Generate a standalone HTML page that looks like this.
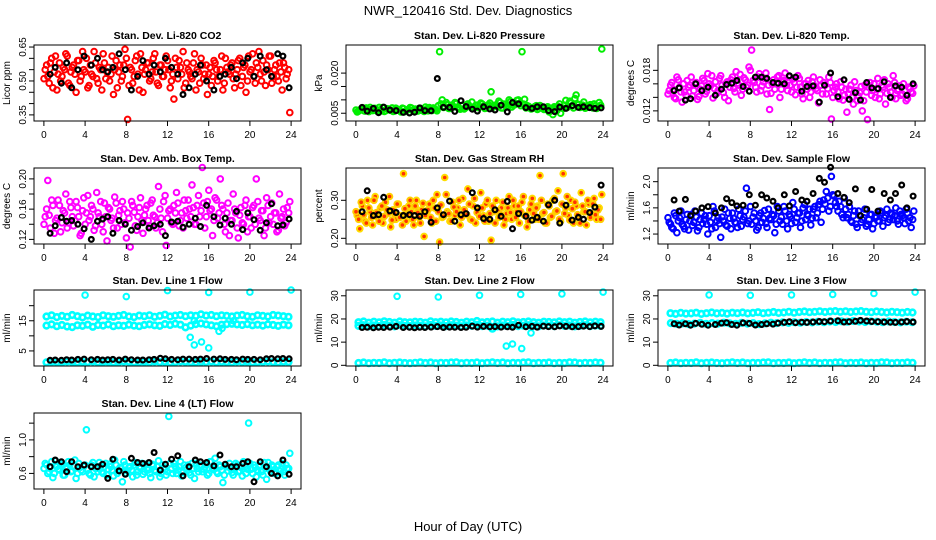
<!DOCTYPE html>
<html><head><meta charset="utf-8"><title>NWR_120416 Std. Dev. Diagnostics</title>
<style>
html,body{margin:0;padding:0;background:#fff;}
svg{display:block;font-family:"Liberation Sans",Arial,sans-serif;}
</style></head>
<body>
<svg id="chart" width="936" height="540" viewBox="0 0 936 540">
<text x="468" y="15" text-anchor="middle" font-size="13">NWR_120416  Std. Dev. Diagnostics</text>
<text x="468" y="531" text-anchor="middle" font-size="13">Hour of Day (UTC)</text>
</svg>
<script>
// ---------- shared data ----------
const xTicks = [0,4,8,12,16,20,24];
const blackHours = [0.6,1.1,1.7,2.2,2.7,3.3,3.9,4.6,5.2,5.7,6.2,6.7,7.3,7.9,8.5,9.1,9.6,10.2,10.7,11.3,11.8,12.4,13.0,13.5,14.1,14.7,15.2,15.8,16.5,17.1,17.6,18.2,18.7,19.3,19.8,20.4,21.0,21.6,22.1,22.7,23.2,23.8];
const outlierHours = [4,8,12,16,20,24];

// Panel 1: CO2
const co2Values = [0.55,0.52,0.58,0.47,0.61,0.53,0.50,0.56,0.62,0.49,0.54,0.57,0.45,0.59,0.52,0.55,0.60,0.48,0.53,0.63,0.51,0.56,0.46,0.58,0.54,0.50,0.61,0.55,0.47,0.57,0.52,0.64,0.33,0.56,0.49,0.59,0.53,0.62,0.45,0.55,0.58,0.51,0.60,0.54,0.48,0.57,0.52,0.61,0.55,0.50,0.42,0.56,0.59,0.53,0.47,0.58,0.54,0.51,0.62,0.55,0.49,0.57,0.53,0.44,0.56,0.52,0.58,0.50,0.55,0.46,0.60,0.54,0.57,0.51,0.53,0.59,0.48,0.56,0.45,0.61,0.55,0.52,0.58,0.63,0.50,0.54,0.57,0.61,0.49,0.55,0.52,0.58,0.46,0.56,0.53,0.36];
const co2ValuesB = [0.51,0.57,0.49,0.60,0.54,0.46,0.58,0.52,0.55,0.61,0.48,0.56,0.53,0.59,0.50,0.63,0.54,0.47,0.57,0.52,0.58,0.49,0.55,0.62,0.51,0.56,0.53,0.44,0.59,0.54,0.50,0.57,0.60,0.48,0.55,0.52,0.61,0.46,0.56,0.53,0.58,0.50,0.54,0.62,0.49,0.57,0.52,0.55,0.59,0.47,0.53,0.60,0.51,0.56,0.63,0.49,0.55,0.52,0.58,0.46,0.54,0.60,0.51,0.57,0.53,0.48,0.59,0.55,0.52,0.61,0.49,0.56,0.53,0.58,0.47,0.55,0.60,0.52,0.57,0.50,0.54,0.62,0.49,0.56,0.53,0.59,0.48,0.55,0.61,0.52,0.57,0.50,0.54,0.58,0.51,0.55];
const co2Black = [0.53,0.56,0.49,0.58,0.47,0.55,0.61,0.57,0.60,0.55,0.54,0.56,0.62,0.55,0.46,0.52,0.59,0.53,0.57,0.54,0.60,0.56,0.53,0.44,0.47,0.53,0.57,0.50,0.46,0.52,0.53,0.56,0.51,0.58,0.60,0.52,0.61,0.55,0.52,0.62,0.61,0.47];
const co2Ticks = [0.35,0.40,0.45,0.50,0.55,0.60,0.65];
const co2TickLabels = ["0.35","","","0.50","","","0.65"];

// Panel 2: pressure
const presValues = [0.0055,0.0062,0.0070,0.0058,0.0065,0.0072,0.0060,0.0068,0.0056,0.0063,0.0071,0.0059,0.0066,0.0061,0.0057,0.0069,0.0062,0.0055,0.0067,0.0060,0.0064,0.0070,0.0058,0.0063,0.0068,0.0061,0.0057,0.0066,0.0071,0.0060,0.0065,0.0059,0.0280,0.0100,0.0075,0.0082,0.0068,0.0078,0.0090,0.0072,0.0065,0.0080,0.0070,0.0085,0.0074,0.0068,0.0079,0.0071,0.0088,0.0076,0.0069,0.0082,0.0130,0.0074,0.0079,0.0095,0.0070,0.0084,0.0077,0.0100,0.0073,0.0081,0.0098,0.0086,0.0280,0.0102,0.0078,0.0072,0.0068,0.0075,0.0064,0.0079,0.0070,0.0066,0.0074,0.0060,0.0045,0.0071,0.0076,0.0050,0.0068,0.0098,0.0075,0.0088,0.0070,0.0118,0.0082,0.0076,0.0092,0.0071,0.0079,0.0074,0.0085,0.0068,0.0090,0.0290];
const presValuesB = [0.0062,0.0058,0.0066,0.0060,0.0070,0.0056,0.0064,0.0068,0.0059,0.0072,0.0061,0.0057,0.0067,0.0063,0.0070,0.0058,0.0065,0.0061,0.0069,0.0056,0.0063,0.0071,0.0060,0.0066,0.0058,0.0068,0.0062,0.0073,0.0059,0.0066,0.0070,0.0064,0.0078,0.0085,0.0072,0.0090,0.0068,0.0080,0.0074,0.0086,0.0070,0.0078,0.0066,0.0082,0.0075,0.0092,0.0071,0.0080,0.0074,0.0084,0.0068,0.0078,0.0088,0.0072,0.0080,0.0075,0.0090,0.0070,0.0083,0.0076,0.0094,0.0080,0.0086,0.0100,0.0078,0.0084,0.0070,0.0076,0.0066,0.0072,0.0078,0.0068,0.0074,0.0064,0.0070,0.0055,0.0068,0.0074,0.0060,0.0085,0.0070,0.0080,0.0072,0.0095,0.0078,0.0105,0.0084,0.0072,0.0080,0.0069,0.0076,0.0082,0.0070,0.0078,0.0074,0.0080];
const presBlack = [0.0072,0.0058,0.0068,0.0052,0.0073,0.0062,0.0060,0.0053,0.0051,0.0054,0.0070,0.0060,0.0059,0.0180,0.0072,0.0072,0.0057,0.0097,0.0075,0.0065,0.0058,0.0074,0.0066,0.0062,0.0080,0.0055,0.0090,0.0085,0.0071,0.0068,0.0074,0.0074,0.0060,0.0056,0.0073,0.0068,0.0078,0.0072,0.0074,0.0071,0.0068,0.0070];
const presTicks = [0.005,0.010,0.015,0.020];
const presTickLabels = ["0.005","","","0.020"];

// Panel 3: Li-820 temp
const tempValues = [0.0150,0.0162,0.0140,0.0170,0.0155,0.0133,0.0148,0.0165,0.0158,0.0142,0.0160,0.0137,0.0152,0.0168,0.0145,0.0175,0.0157,0.0139,0.0163,0.0150,0.0172,0.0147,0.0160,0.0135,0.0166,0.0153,0.0178,0.0158,0.0143,0.0169,0.0155,0.0185,0.0210,0.0162,0.0148,0.0175,0.0157,0.0168,0.0145,0.0122,0.0160,0.0152,0.0170,0.0140,0.0163,0.0176,0.0150,0.0158,0.0167,0.0144,0.0172,0.0155,0.0138,0.0160,0.0165,0.0148,0.0170,0.0153,0.0132,0.0158,0.0162,0.0145,0.0170,0.0108,0.0150,0.0160,0.0138,0.0155,0.0143,0.0118,0.0152,0.0140,0.0163,0.0135,0.0147,0.0120,0.0158,0.0107,0.0162,0.0150,0.0140,0.0168,0.0145,0.0155,0.0130,0.0160,0.0148,0.0172,0.0138,0.0152,0.0143,0.0160,0.0135,0.0155,0.0148,0.0157];
const tempValuesB = [0.0145,0.0158,0.0152,0.0138,0.0166,0.0148,0.0160,0.0143,0.0155,0.0170,0.0150,0.0162,0.0141,0.0157,0.0165,0.0149,0.0160,0.0172,0.0153,0.0146,0.0168,0.0158,0.0140,0.0163,0.0155,0.0170,0.0148,0.0161,0.0174,0.0152,0.0166,0.0158,0.0180,0.0165,0.0155,0.0170,0.0150,0.0163,0.0176,0.0158,0.0146,0.0166,0.0160,0.0172,0.0152,0.0165,0.0158,0.0170,0.0148,0.0162,0.0155,0.0168,0.0145,0.0160,0.0152,0.0140,0.0163,0.0157,0.0150,0.0166,0.0145,0.0158,0.0153,0.0162,0.0140,0.0155,0.0148,0.0163,0.0136,0.0152,0.0145,0.0158,0.0130,0.0150,0.0142,0.0156,0.0135,0.0148,0.0155,0.0143,0.0160,0.0152,0.0138,0.0158,0.0166,0.0146,0.0155,0.0140,0.0162,0.0150,0.0157,0.0145,0.0150,0.0138,0.0153,0.0146];
const tempBlack = [0.0150,0.0154,0.0136,0.0138,0.0160,0.0150,0.0155,0.0143,0.0152,0.0159,0.0161,0.0165,0.0156,0.0149,0.0170,0.0170,0.0168,0.0162,0.0161,0.0160,0.0172,0.0170,0.0149,0.0156,0.0157,0.0133,0.0158,0.0176,0.0141,0.0166,0.0137,0.0147,0.0136,0.0162,0.0154,0.0153,0.0163,0.0140,0.0157,0.0155,0.0143,0.0160];
const tempTicks = [0.012,0.014,0.016,0.018];
const tempTickLabels = ["0.012","","","0.018"];

// Panel 4: amb box temp
const ambValues = [0.150,0.198,0.135,0.165,0.145,0.172,0.130,0.158,0.180,0.142,0.162,0.138,0.170,0.150,0.128,0.175,0.155,0.145,0.165,0.132,0.182,0.150,0.140,0.168,0.118,0.160,0.148,0.176,0.135,0.158,0.170,0.142,0.155,0.110,0.165,0.138,0.150,0.175,0.128,0.160,0.145,0.168,0.152,0.135,0.190,0.148,0.170,0.112,0.158,0.142,0.165,0.182,0.138,0.155,0.172,0.148,0.160,0.192,0.140,0.165,0.150,0.215,0.135,0.170,0.158,0.125,0.175,0.148,0.200,0.160,0.130,0.168,0.145,0.180,0.155,0.122,0.162,0.140,0.172,0.150,0.135,0.165,0.200,0.148,0.158,0.125,0.175,0.142,0.168,0.155,0.130,0.180,0.150,0.138,0.162,0.170];
const ambValuesB = [0.140,0.160,0.152,0.172,0.128,0.148,0.165,0.142,0.155,0.135,0.170,0.150,0.145,0.162,0.125,0.158,0.140,0.178,0.150,0.160,0.138,0.155,0.170,0.130,0.150,0.162,0.145,0.135,0.168,0.152,0.140,0.160,0.122,0.148,0.170,0.156,0.132,0.162,0.145,0.152,0.165,0.138,0.172,0.150,0.142,0.160,0.130,0.178,0.148,0.160,0.140,0.155,0.168,0.145,0.135,0.158,0.172,0.150,0.162,0.140,0.178,0.158,0.168,0.150,0.185,0.160,0.145,0.172,0.155,0.165,0.140,0.155,0.125,0.145,0.160,0.135,0.152,0.142,0.165,0.130,0.150,0.162,0.140,0.170,0.145,0.158,0.135,0.165,0.150,0.140,0.155,0.132,0.148,0.160,0.142,0.155];
const ambBlack = [0.128,0.138,0.149,0.144,0.145,0.140,0.134,0.120,0.144,0.147,0.150,0.128,0.145,0.140,0.132,0.137,0.142,0.135,0.138,0.140,0.125,0.143,0.144,0.136,0.140,0.148,0.137,0.165,0.150,0.139,0.148,0.140,0.157,0.133,0.155,0.146,0.132,0.142,0.167,0.138,0.139,0.147];
const ambTicks = [0.12,0.14,0.16,0.18,0.20];
const ambTickLabels = ["0.12","","0.16","","0.20"];

// Panel 5: gas stream RH
const rhValues = [0.260,0.225,0.285,0.245,0.300,0.270,0.235,0.310,0.255,0.280,0.240,0.295,0.265,0.230,0.275,0.250,0.290,0.260,0.370,0.245,0.285,0.270,0.235,0.300,0.255,0.275,0.205,0.265,0.290,0.240,0.280,0.315,0.190,0.255,0.360,0.270,0.245,0.295,0.260,0.280,0.235,0.305,0.265,0.330,0.250,0.285,0.240,0.275,0.320,0.260,0.290,0.245,0.195,0.270,0.300,0.255,0.280,0.235,0.265,0.310,0.250,0.285,0.270,0.240,0.295,0.260,0.230,0.275,0.305,0.250,0.285,0.365,0.265,0.240,0.290,0.255,0.300,0.270,0.325,0.245,0.370,0.280,0.260,0.300,0.240,0.285,0.255,0.320,0.270,0.235,0.290,0.265,0.305,0.250,0.280,0.315];
const rhValuesB = [0.270,0.250,0.295,0.262,0.240,0.280,0.255,0.300,0.268,0.245,0.285,0.258,0.275,0.310,0.248,0.265,0.290,0.255,0.235,0.278,0.262,0.300,0.250,0.285,0.268,0.240,0.292,0.260,0.275,0.255,0.300,0.245,0.270,0.288,0.258,0.315,0.265,0.245,0.282,0.270,0.300,0.255,0.275,0.262,0.290,0.248,0.305,0.268,0.258,0.280,0.245,0.300,0.265,0.285,0.240,0.272,0.262,0.295,0.250,0.280,0.268,0.300,0.255,0.285,0.270,0.310,0.260,0.245,0.290,0.265,0.280,0.250,0.300,0.268,0.240,0.285,0.258,0.305,0.272,0.250,0.290,0.265,0.310,0.248,0.278,0.295,0.262,0.240,0.285,0.270,0.300,0.255,0.290,0.262,0.275,0.250];
const rhBlack = [0.270,0.325,0.260,0.262,0.308,0.272,0.268,0.260,0.262,0.260,0.258,0.270,0.242,0.280,0.262,0.298,0.245,0.262,0.265,0.320,0.280,0.252,0.250,0.275,0.258,0.297,0.225,0.265,0.258,0.248,0.255,0.245,0.288,0.300,0.240,0.287,0.248,0.255,0.250,0.268,0.282,0.340];
const rhTicks = [0.20,0.25,0.30];
const rhTickLabels = ["0.20","","0.30"];

// Panel 6: sample flow
const sfValues = [1.38,1.30,1.52,1.22,1.45,1.35,1.28,1.50,1.40,1.33,1.55,1.25,1.42,1.36,1.48,1.20,1.38,1.62,1.30,1.45,1.15,1.40,1.34,1.52,1.28,1.44,1.37,1.58,1.32,1.46,1.90,1.40,1.35,1.52,1.26,1.48,1.38,1.56,1.30,1.44,1.50,1.22,1.62,1.40,1.35,1.55,1.28,1.47,1.68,1.38,1.52,1.30,1.60,1.42,1.48,1.34,1.58,1.45,1.65,1.38,1.72,1.85,1.55,2.08,1.78,1.62,1.70,1.50,1.75,1.45,1.62,1.38,1.55,1.30,1.48,1.42,1.58,1.35,1.50,1.28,1.45,1.40,1.55,1.32,1.48,1.38,1.52,1.42,1.60,1.35,1.50,1.45,1.58,1.40,1.30,1.55];
const sfValuesB = [1.45,1.35,1.28,1.48,1.40,1.55,1.32,1.42,1.26,1.50,1.38,1.46,1.30,1.52,1.42,1.35,1.48,1.28,1.55,1.40,1.36,1.46,1.58,1.32,1.44,1.52,1.38,1.30,1.48,1.42,1.55,1.36,1.62,1.46,1.40,1.30,1.52,1.44,1.36,1.58,1.42,1.48,1.35,1.55,1.46,1.62,1.40,1.50,1.36,1.58,1.45,1.52,1.40,1.65,1.50,1.58,1.44,1.62,1.52,1.70,1.58,1.66,1.75,1.62,1.80,1.68,1.55,1.62,1.45,1.58,1.50,1.40,1.48,1.35,1.55,1.38,1.45,1.32,1.42,1.50,1.36,1.46,1.40,1.52,1.45,1.58,1.42,1.50,1.48,1.40,1.55,1.48,1.36,1.52,1.45,1.42];
const sfBlack = [1.72,1.55,1.73,1.48,1.55,1.60,1.62,1.52,1.60,1.74,1.68,1.63,1.64,1.80,1.64,1.80,1.75,1.70,1.60,1.80,1.63,1.85,1.72,1.70,1.82,2.05,1.99,2.22,1.82,1.76,1.68,1.89,1.48,1.58,1.88,1.55,1.82,1.72,1.82,1.95,1.60,1.78];
const sfTicks = [1.2,1.4,1.6,1.8,2.0];
const sfTickLabels = ["1.2","","1.6","","2.0"];

// Panel 7: line 1 flow
const l1High = [16.4,16.8,16.2,16.6,16.3,16.9,16.5,16.1,16.7,16.4,16.2,16.8,16.5,16.3,16.6,16.9,16.4,16.2,16.7,16.5,16.8,16.3,16.6,17.0,16.4,16.7,16.9,16.5,16.8,16.6,17.1,16.7,16.9,16.5,16.8,16.6,16.4,16.7,16.9,16.5,16.3,16.8,16.6,16.4,16.9,16.7,16.5,16.3];
const l1Low = [13.4,13.8,13.2,13.6,13.1,12.9,13.5,13.3,13.7,13.0,13.6,13.4,13.8,13.2,13.5,13.3,13.7,13.4,13.2,13.6,13.8,13.5,13.3,13.9,13.6,14.0,13.7,12.8,13.4,13.9,14.1,13.8,13.5,13.2,13.7,13.9,14.0,13.8,13.6,13.9,13.5,13.7,13.4,13.8,13.6,13.3,13.7,13.5];
const l1Base = [1.2,1.4,1.3,1.2,1.5,1.3,1.2,1.4,1.3,1.5,1.2,1.3,1.4,1.2,1.3,1.5,1.4,1.2,1.3,1.4,1.2,1.5,1.3,1.4,1.2,1.3,1.5,1.4,1.3,1.2,1.4,1.3,1.5,1.2,1.4,1.3,1.2,1.5,1.3,1.4,1.2,1.3,1.4,1.5,1.3,1.2,1.4,1.3];
const l1Black = [1.9,2.0,1.9,2.1,2.0,2.2,2.3,2.1,2.2,2.0,2.1,2.2,2.0,2.3,2.1,2.0,2.0,2.1,2.2,2.6,2.4,2.2,2.1,2.3,2.3,2.2,2.3,2.5,2.3,2.4,2.2,2.2,2.1,2.3,2.2,2.2,2.1,2.4,2.5,2.4,2.5,2.4];
const l1Outliers = [23.5,23.0,25.0,24.4,24.5,25.2];
const l1DipHours = [14.2,14.6,15.3,16.0,17.0,17.3,14.6,18.4];
const l1DipValues = [9.5,7.0,8.0,6.0,11.5,12.5,15.0,15.0];
const l1Ticks = [5,10,15,20];
const l1TickLabels = ["5","","15",""];

// Panel 8: line 2 flow
const l2High = [18.6,18.9,18.4,18.8,18.5,19.0,18.7,18.4,18.9,18.6,18.5,18.8,18.7,18.4,19.0,18.6,18.8,18.5,18.9,18.7,18.4,18.8,18.6,19.1,18.5,18.7,18.9,18.4,18.8,18.6,19.0,18.5,18.7,18.9,18.6,18.4,18.8,18.7,18.5,18.9,18.6,18.8,18.4,18.7,18.9,18.5,18.8,18.6];
const l2Mid = [17.0,17.3,16.8,17.2,16.9,17.4,17.1,16.8,17.3,17.0,16.9,17.2,17.1,16.8,17.4,17.0,17.2,16.9,17.3,17.1,16.8,17.2,17.0,17.5,16.9,17.1,15.8,16.8,17.2,17.0,17.4,16.9,17.1,17.3,17.0,16.8,17.2,17.1,16.9,17.3,17.0,17.2,16.8,17.1,17.3,16.9,17.2,17.0];
const l2Base = [1.0,1.2,0.9,1.1,1.0,1.3,0.9,1.1,1.2,1.0,0.9,1.1,1.3,1.0,1.2,0.9,1.1,1.0,1.2,1.3,0.9,1.1,1.0,1.2,0.9,1.1,1.3,1.0,1.2,0.9,1.1,1.0,1.2,1.3,0.9,1.1,1.0,1.2,0.9,1.1,1.0,1.3,1.2,0.9,1.1,1.0,1.2,1.1];
const l2Black = [16.3,16.4,16.2,16.4,16.3,16.5,16.8,16.3,16.4,16.2,16.4,16.3,16.5,16.7,16.3,16.5,16.4,16.3,16.4,16.9,16.5,16.8,16.6,16.7,16.5,16.6,16.4,17.3,16.6,16.8,16.5,16.9,16.7,16.6,17.0,16.8,16.6,16.7,16.9,16.7,17.0,16.8];
const l2Outliers = [29.8,29.5,30.2,30.6,30.8,31.6];
const l2DipHours = [14.6,15.2,16.1,17.0,14.5];
const l2DipValues = [8.3,9.2,7.2,14.0,17.0];
const l2Ticks = [0,10,20,30];
const l2TickLabels = ["0","10","20","30"];

// Panel 9: line 3 flow
const l3High = [22.5,22.2,22.6,22.3,22.4,22.7,22.2,22.5,22.8,22.4,22.6,22.3,22.7,22.5,22.8,22.4,22.6,22.9,22.5,22.7,23.0,22.6,22.8,23.1,22.7,23.0,23.2,22.9,23.1,23.3,23.0,23.2,23.4,23.1,23.3,23.0,23.2,23.4,23.1,22.9,23.2,23.0,22.8,23.1,22.9,22.7,23.0,22.8];
const l3Mid = [18.2,17.9,18.1,17.8,18.0,18.3,17.9,18.2,18.0,18.4,18.1,17.9,18.3,18.0,18.2,17.8,18.1,18.4,18.2,18.5,18.3,18.6,18.4,18.7,18.5,18.8,18.6,18.9,18.7,19.0,18.8,19.1,18.9,18.7,19.0,18.8,18.6,18.9,18.7,18.5,18.8,18.6];
const l3Base = [1.0,1.2,0.9,1.1,1.0,1.3,0.9,1.1,1.2,1.0,0.9,1.1,1.3,1.0,1.2,0.9,1.1,1.0,1.2,1.3,0.9,1.1,1.0,1.2,0.9,1.1,1.3,1.0,1.2,0.9,1.1,1.0,1.2,1.3,0.9,1.1,1.0,1.2,0.9,1.1,1.0,1.3,1.2,0.9,1.1,1.0,1.2,1.1];
const l3Black = [17.9,17.4,17.9,17.3,18.1,17.7,17.3,17.6,18.2,18.4,17.6,17.3,18.3,18.1,17.4,17.6,17.9,17.8,18.2,18.5,18.8,18.4,18.6,18.5,18.7,18.9,18.8,19.1,19.2,18.7,18.8,19.0,19.4,19.1,18.9,18.8,18.7,18.6,18.5,18.7,18.9,18.7];
const l3Outliers = [30.4,30.2,30.4,30.6,31.0,31.6];
const l3Ticks = [0,10,20,30];
const l3TickLabels = ["0","10","20","30"];

// Panel 10: line 4 flow
const l4Values = [0.72,0.60,0.68,0.55,0.75,0.65,0.70,0.58,0.66,0.74,0.62,0.69,0.54,0.72,0.64,0.68,1.12,0.60,0.70,0.56,0.66,0.73,0.62,0.68,0.58,0.71,0.64,0.76,0.60,0.67,0.50,0.70,0.63,0.68,0.56,0.73,0.62,0.66,0.59,0.71,0.64,0.55,0.69,0.62,0.75,0.60,0.67,0.58,1.28,0.65,0.72,0.60,0.68,0.57,0.70,0.64,0.61,0.72,0.54,0.66,0.70,0.62,0.67,0.58,0.74,0.65,0.78,0.60,0.68,0.49,0.70,0.63,0.66,0.58,0.72,0.62,0.67,0.74,0.60,1.20,0.65,0.70,0.56,0.68,0.62,0.73,0.53,0.66,0.70,0.60,0.68,0.63,0.72,0.58,0.66,0.84];
const l4ValuesB = [0.66,0.70,0.62,0.74,0.60,0.68,0.64,0.72,0.58,0.66,0.70,0.63,0.76,0.60,0.67,0.62,0.70,0.65,0.58,0.73,0.66,0.62,0.69,0.60,0.72,0.65,0.68,0.57,0.70,0.63,0.66,0.74,0.60,0.67,0.64,0.70,0.58,0.68,0.72,0.62,0.66,0.60,0.71,0.64,0.68,0.56,0.70,0.65,0.62,0.72,0.60,0.68,0.64,0.74,0.61,0.67,0.70,0.58,0.66,0.72,0.62,0.68,0.65,0.70,0.60,0.74,0.66,0.62,0.70,0.64,0.58,0.68,0.72,0.61,0.66,0.70,0.63,0.57,0.68,0.65,0.72,0.60,0.67,0.64,0.70,0.58,0.66,0.73,0.62,0.68,0.60,0.70,0.65,0.62,0.70,0.66];
const l4Black = [0.68,0.76,0.74,0.62,0.74,0.68,0.70,0.68,0.68,0.71,0.54,0.77,0.63,0.59,0.78,0.73,0.72,0.73,0.85,0.64,0.71,0.77,0.81,0.57,0.68,0.76,0.74,0.73,0.69,0.82,0.71,0.68,0.68,0.72,0.74,0.50,0.74,0.68,0.60,0.57,0.76,0.59];
const l4Ticks = [0.6,0.8,1.0,1.2];
const l4TickLabels = ["0.6","","1.0",""];

// ---------- drawing ----------
const NS = "http://www.w3.org/2000/svg";
const svg = document.getElementById("chart");
const colLeft = [34,346,658], rowTop = [45,168,290,413], PW = 267, PH = 76;

function mk(tag, attrs, parent){
  const e = document.createElementNS(NS, tag);
  for (const k in attrs) e.setAttribute(k, attrs[k]);
  (parent||svg).appendChild(e);
  return e;
}
function spread(values){ return values.map((v,i)=>[(i+0.5)*24/values.length, v]); }
function spreadB(values){ return values.map((v,i)=>[(i+0.05)*24/values.length, v]); }
function pairs(hours, values){ return values.map((v,i)=>[hours[i], v]); }

function panel(opt){
  const L = colLeft[opt.col], T = rowTop[opt.row];
  const g = mk("g", {});
  
  
  const xs = h => L + (h + 0.96) / 25.92 * PW;
  const ys = v => T + PH - (v - opt.ymin) / (opt.ymax - opt.ymin) * PH;
  const t = mk("text", {x: L + PW/2, y: T - 6, "text-anchor":"middle", "font-size":"10.5", "font-weight":"bold"}, g);
  t.textContent = opt.title;
  
  
  const yl = mk("text", {x: 0, y: 0, "text-anchor":"middle", "font-size":"10", transform:`translate(${L-24},${T+PH/2}) rotate(-90)`}, g);
  yl.textContent = opt.ylab;
  
  
  const pg = mk("g", {fill:"none"}, g);
  
  
  opt.series.forEach(s=>{
    s.pts.forEach(p=>{
      const c = mk("circle", {cx: xs(p[0]).toFixed(1), cy: ys(p[1]).toFixed(1), r: s.r||2.8, stroke: s.color, "stroke-width": s.sw||2.0, fill: s.fill||"none"}, pg);
      
      
    });
  });
  const fr = mk("rect", {x:L, y:T, width:PW, height:PH, fill:"none", stroke:"#000", "stroke-width":"1"}, g);
  
  
  xTicks.forEach(h=>{
    const x = xs(h);
    mk("line", {x1:x, x2:x, y1:T+PH, y2:T+PH+5, stroke:"#000"}, g);
    const tl = mk("text", {x:x, y:T+PH+17, "text-anchor":"middle", "font-size":"10"}, g);
    tl.textContent = h;
    
    
  });
  opt.ticks.forEach((v,i)=>{
    const y = ys(v);
    mk("line", {x1:L, x2:L-5, y1:y, y2:y, stroke:"#000"}, g);
    if (opt.tickLabels[i]) {
      const tl = mk("text", {x:0, y:0, "text-anchor":"middle", "font-size":"10", transform:`translate(${L-8},${y}) rotate(-90)`}, g);
      tl.textContent = opt.tickLabels[i];
      
      
    }
  });
}

const BLK = {color:"#000", sw:2.2, r:2.4, label:"black-point"};
panel({name:"panel-co2", col:0,row:0,title:"Stan. Dev. Li-820 CO2", ylab:"Licor ppm", ymin:0.323, ymax:0.659, ticks:co2Ticks, tickLabels:co2TickLabels,
  series:[{color:"#ff0000", label:"co2-point", pts:spread(co2Values)}, {color:"#ff0000", label:"co2-point", pts:spreadB(co2ValuesB)}, Object.assign({pts:pairs(blackHours, co2Black)}, BLK)]});
panel({name:"panel-pressure", col:1,row:0,title:"Stan. Dev. Li-820 Pressure", ylab:"kPa", ymin:0.0021, ymax:0.0305, ticks:presTicks, tickLabels:presTickLabels,
  series:[{color:"#00ee00", label:"pressure-point", pts:spread(presValues)}, {color:"#00ee00", label:"pressure-point", pts:spreadB(presValuesB)}, Object.assign({pts:pairs(blackHours, presBlack)}, BLK)]});
panel({name:"panel-temp", col:2,row:0,title:"Stan. Dev. Li-820 Temp.", ylab:"degrees C", ymin:0.0105, ymax:0.02175, ticks:tempTicks, tickLabels:tempTickLabels,
  series:[{color:"#ff00ff", label:"temp-point", pts:spread(tempValues)}, {color:"#ff00ff", label:"temp-point", pts:spreadB(tempValuesB)}, Object.assign({pts:pairs(blackHours, tempBlack)}, BLK)]});
panel({name:"panel-amb-temp", col:0,row:1,title:"Stan. Dev. Amb. Box Temp.", ylab:"degrees C", ymin:0.1139, ymax:0.2144, ticks:ambTicks, tickLabels:ambTickLabels,
  series:[{color:"#ff00ff", label:"amb-point", pts:spread(ambValues)}, {color:"#ff00ff", label:"amb-point", pts:spreadB(ambValuesB)}, Object.assign({pts:pairs(blackHours, ambBlack)}, BLK)]});
panel({name:"panel-rh", col:1,row:1,title:"Stan. Dev. Gas Stream RH", ylab:"percent", ymin:0.185, ymax:0.385, ticks:rhTicks, tickLabels:rhTickLabels,
  series:[{color:"#ffdd00", fill:"#ff3300", label:"rh-point", pts:spread(rhValues)}, {color:"#ffcc00", fill:"#ff3300", label:"rh-point", pts:spreadB(rhValuesB)}, Object.assign({pts:pairs(blackHours, rhBlack)}, BLK)]});
panel({name:"panel-sample-flow", col:2,row:1,title:"Stan. Dev. Sample Flow", ylab:"ml/min", ymin:1.048, ymax:2.209, ticks:sfTicks, tickLabels:sfTickLabels,
  series:[{color:"#0000ff", label:"flow-point", pts:spread(sfValues)}, {color:"#0000ff", label:"flow-point", pts:spreadB(sfValuesB)}, Object.assign({pts:pairs(blackHours, sfBlack)}, BLK)]});
const CY = "#00ffff";
panel({name:"panel-line1", col:0,row:2,title:"Stan. Dev. Line 1 Flow", ylab:"ml/min", ymin:0.0, ymax:25.2, ticks:l1Ticks, tickLabels:l1TickLabels,
  series:[{color:CY,sw:2.6,label:"line1-point",pts:spread(l1High)},{color:CY,sw:2.6,label:"line1-point",pts:spread(l1Low)},{color:CY,sw:2.6,label:"line1-point",pts:spread(l1Base)},
    {color:CY,label:"line1-outlier",pts:pairs(outlierHours,l1Outliers)},{color:CY,label:"line1-outlier",pts:pairs(l1DipHours,l1DipValues)}, Object.assign({pts:pairs(blackHours, l1Black)}, BLK)]});
panel({name:"panel-line2", col:1,row:2,title:"Stan. Dev. Line 2 Flow", ylab:"ml/min", ymin:-0.3, ymax:32.5, ticks:l2Ticks, tickLabels:l2TickLabels,
  series:[{color:CY,sw:2.6,label:"line2-point",pts:spread(l2High)},{color:CY,sw:2.6,label:"line2-point",pts:spread(l2Mid)},{color:CY,sw:2.6,label:"line2-point",pts:spread(l2Base)},
    {color:CY,label:"line2-outlier",pts:pairs(outlierHours,l2Outliers)},{color:CY,label:"line2-outlier",pts:pairs(l2DipHours,l2DipValues)}, Object.assign({pts:pairs(blackHours, l2Black)}, BLK)]});
panel({name:"panel-line3", col:2,row:2,title:"Stan. Dev. Line 3 Flow", ylab:"ml/min", ymin:-0.3, ymax:32.5, ticks:l3Ticks, tickLabels:l3TickLabels,
  series:[{color:CY,sw:2.6,label:"line3-point",pts:spread(l3High)},{color:CY,sw:2.6,label:"line3-point",pts:spread(l3Mid)},{color:CY,sw:2.6,label:"line3-point",pts:spread(l3Base)},
    {color:CY,label:"line3-outlier",pts:pairs(outlierHours,l3Outliers)}, Object.assign({pts:pairs(blackHours, l3Black)}, BLK)]});
panel({name:"panel-line4", col:0,row:3,title:"Stan. Dev. Line 4 (LT) Flow", ylab:"ml/min", ymin:0.414, ymax:1.321, ticks:l4Ticks, tickLabels:l4TickLabels,
  series:[{color:CY,label:"line4-point",pts:spread(l4Values)}, {color:CY,label:"line4-point",pts:spreadB(l4ValuesB)}, Object.assign({pts:pairs(blackHours, l4Black)}, BLK)]});
</script>
</body></html>
